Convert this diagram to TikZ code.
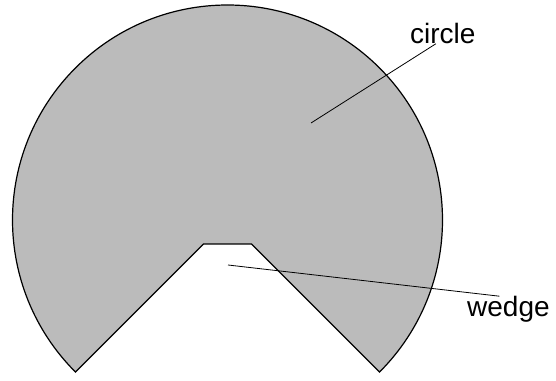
\documentclass[tikz,border=0pt]{standalone}
\usepackage{fontspec}
\setmainfont{Liberation Sans}
\usepackage{tikz}
\usepackage{xcolor}
\definecolor{shapegray}{RGB}{187,187,187}

\begin{document}
\begin{tikzpicture}[x=1pt, y=1pt,
  lbl/.style={inner sep=0pt, font=\fontsize{28}{30}\selectfont},
  leader/.style={line width=0.8pt}]
  \useasboundingbox (0,0) rectangle (556,380);
  \coordinate (centre) at (227.5,160);
  \filldraw[line width=1.2pt, fill=shapegray] ([shift={(-45:215)}]centre) arc (-45:225:215)
    -- ([shift={(-24,-24)}]centre) -- ([shift={(24,-24)}]centre) -- cycle; % circle with wedge cut out
  \node[lbl, anchor=base west] (circlelabel) at (410,336.7) {circle};
  \node[lbl, anchor=base west] (wedgelabel) at (467,63.3) {wedge};
  \coordinate (circlept) at (311,257);
  \coordinate (wedgept) at (228,115);
  \draw[leader] (circlept) -- ([xshift=-7pt]circlelabel.south); % circle leader
  \draw[leader] (wedgept) -- ([xshift=-9pt]wedgelabel.north); % wedge leader
\end{tikzpicture}
\end{document}
